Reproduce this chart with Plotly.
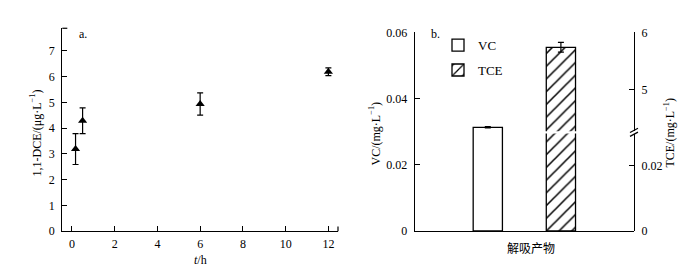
import plotly.graph_objects as go

# ---- data ----
t_h = [0.17, 0.5, 6, 12]
dce = [3.19, 4.29, 4.94, 6.19]
dce_err = [0.6, 0.5, 0.43, 0.15]

cats = ["VC", "TCE"]
vc_val = [0.0313]
vc_err = [0.0002]
tce_val = [5.74]
tce_err = [0.085]

left_x_ticks = [0, 2, 4, 6, 8, 10, 12]
left_y_ticks = [0, 1, 2, 3, 4, 5, 6, 7]
vc_ticks = [0, 0.02, 0.04, 0.06]
vc_ticktext = ["0", "0.02", "0.04", "0.06"]
tce_low_ticks = [0, 0.02]
tce_low_text = ["0", "0.02"]
tce_high_ticks = [5, 6]

W, H = 687, 270
def px(x):
    return x / W
def py(y):
    return 1 - y / H

FONT = "Liberation Serif"
tf = dict(family=FONT, size=12, color="black")

fig = go.Figure()

fig.add_trace(go.Scatter(
    x=t_h, y=dce, mode="markers",
    marker=dict(symbol="triangle-up", size=8, color="black"),
    error_y=dict(type="data", array=dce_err, color="black", thickness=1.2, width=3),
    xaxis="x", yaxis="y", showlegend=False))

fig.add_trace(go.Bar(
    x=[cats[0]], y=vc_val, name="VC", width=0.4,
    marker=dict(color="white", line=dict(color="black", width=1.3)),
    error_y=dict(type="data", array=vc_err, color="black", thickness=1.2, width=3),
    xaxis="x2", yaxis="y2", legendgroup="a"))

pat = dict(shape="/", fgcolor="black", fgopacity=1, bgcolor="white", size=9, solidity=0.17)
fig.add_trace(go.Bar(
    x=[cats[1]], y=tce_val, name="TCE", width=0.4,
    marker=dict(color="white", line=dict(color="black", width=1.3), pattern=pat),
    xaxis="x3", yaxis="y3", showlegend=False))
fig.add_trace(go.Bar(
    x=[cats[1]], y=tce_val, name="TCE", width=0.4,
    marker=dict(color="white", line=dict(color="black", width=1.3), pattern=pat),
    error_y=dict(type="data", array=tce_err, color="black", thickness=1.2, width=3),
    xaxis="x4", yaxis="y4", legendgroup="b"))

axcommon = dict(showline=True, linecolor="black", linewidth=1.3, showgrid=False,
                zeroline=False, ticks="inside", ticklen=5, tickcolor="black",
                tickwidth=1.2, tickfont=tf)

xd2 = [px(406.7), px(626)]
yd_full = [py(227.7), py(18.3)]
yd_low = [py(227.7), py(125)]
yd_high = [py(122.5), py(18.3)]

fig.update_layout(
    width=W, height=H, margin=dict(l=0, r=0, t=0, b=0),
    plot_bgcolor="rgba(0,0,0,0)", paper_bgcolor="white",
    barmode="overlay",
    xaxis=dict(domain=[px(54.3), px(330)], range=[-0.45, 12.45], tickvals=left_x_ticks,
               anchor="y", ticklabelstandoff=1, **axcommon),
    yaxis=dict(domain=[py(228), py(14)], range=[0, 7.88], tickvals=left_y_ticks,
               anchor="x", ticklabelstandoff=4, **axcommon),
    xaxis2=dict(domain=xd2, type="category", categoryorder="array", categoryarray=cats,
                range=[-1, 2], showticklabels=False, ticks="", showline=True,
                linecolor="black", linewidth=1.3, showgrid=False, anchor="y2"),
    yaxis2=dict(domain=yd_full, range=[0, 0.06], tickvals=vc_ticks, ticktext=vc_ticktext,
                anchor="x2", ticklabelstandoff=4, **axcommon),
    xaxis3=dict(domain=xd2, type="category", categoryorder="array", categoryarray=cats,
                range=[-1, 2], visible=False, anchor="y3"),
    yaxis3=dict(domain=yd_low, range=[0, 0.0299], tickvals=tce_low_ticks,
                ticktext=tce_low_text, side="right", anchor="x3", ticklabelstandoff=4,
                **axcommon),
    xaxis4=dict(domain=xd2, type="category", categoryorder="array", categoryarray=cats,
                range=[-1, 2], visible=False, anchor="y4"),
    yaxis4=dict(domain=yd_high, range=[4.283, 6], tickvals=tce_high_ticks,
                side="right", anchor="x4", ticklabelstandoff=4, **axcommon),
    legend=dict(x=px(430), y=py(16), xanchor="left", yanchor="top",
                font=dict(family=FONT, size=13, color="black"),
                bgcolor="rgba(0,0,0,0)", traceorder="grouped", tracegroupgap=5),
    showlegend=True,
)

ann = [
    dict(text="a.", x=px(75), y=py(20)),
    dict(text="b.", x=px(427), y=py(20)),
    dict(text="1,1-DCE/(μg·L<sup>−1</sup>)", x=px(28), y=py(125), textangle=-90),
    dict(text="<i>t</i>/h", x=px(192), y=py(258)),
    dict(text="VC/(mg·L<sup>−1</sup>)", x=px(367), y=py(125), textangle=-90),
    dict(text="TCE/(mg·L<sup>−1</sup>)", x=px(662), y=py(124), textangle=-90),
]
for a in ann:
    fig.add_annotation(xref="paper", yref="paper", showarrow=False,
                       xanchor="center", yanchor="middle",
                       font=tf, **a)
fig.add_annotation(xref="paper", yref="paper", showarrow=False, text="解吸产物",
                   x=px(523), y=py(245), xanchor="center", yanchor="middle",
                   font=dict(family="Noto Sans CJK SC", size=12, color="black"))

lc = dict(color="black", width=1.2)
shapes = [
    dict(type="line", xref="paper", yref="paper", x0=px(54.3), x1=px(59.3), y0=py(14), y1=py(14), line=lc),
    dict(type="line", xref="paper", yref="paper", x0=px(330), x1=px(330), y0=py(228), y1=py(223), line=lc),
    dict(type="line", xref="paper", yref="paper", x0=px(622), x1=px(630), y0=py(124), y1=py(119.5), line=lc),
    dict(type="line", xref="paper", yref="paper", x0=px(622), x1=px(630), y0=py(128), y1=py(123.5), line=lc),
]
fig.update_layout(shapes=shapes)

fig.write_html("out.html")
